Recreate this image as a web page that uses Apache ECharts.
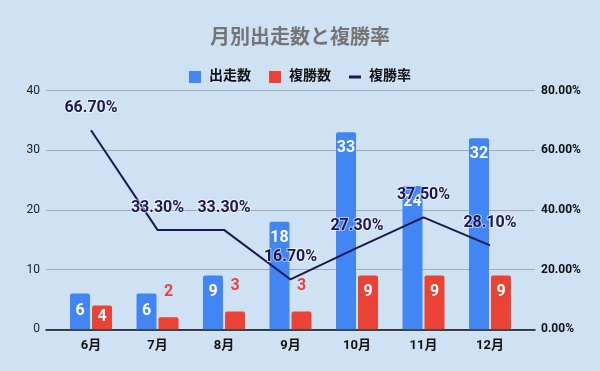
<!DOCTYPE html>
<html><head><meta charset="utf-8">
<script src="https://cdn.jsdelivr.net/npm/echarts@6/dist/echarts.min.js"></script>
<style>html,body{margin:0;padding:0;background:#cfe2f3;}#c{width:600px;height:371px;}</style>
</head><body><div id="c"></div>
<script>
const months = ['6月','7月','8月','9月','10月','11月','12月'];
const starts = [6, 6, 9, 18, 33, 24, 32];
const places = [4, 2, 3, 3, 9, 9, 9];
const placeRate = [66.7, 33.3, 33.3, 16.7, 27.3, 37.5, 28.1];
const leftTicks = {min: 0, max: 40, interval: 10};
const rightTicks = {min: 0, max: 80, interval: 20};

const FONT = 'Roboto, "Noto Sans CJK JP", sans-serif';
const BLUE = '#4285f4', RED = '#ea4335', NAVY = '#1d1850';

function barLabel(v, color) {
  if (v < 4) return {show: true, position: 'top', distance: 17, color: color, fontSize: 16, fontWeight: 'bold', fontFamily: FONT};
  if (v <= 6) return {show: true, position: 'inside', color: '#fff', fontSize: 16, fontWeight: 'bold', fontFamily: FONT};
  return {show: true, position: 'insideTop', distance: 8, color: '#fff', fontSize: 16, fontWeight: 'bold', fontFamily: FONT};
}

const chart = echarts.init(document.getElementById('c'), null, {renderer: 'canvas'});
const G = {top: 90.5, bottom: 41.7};
chart.setOption({
  backgroundColor: '#cfe2f3',
  animation: false,
  title: {
    text: '月別出走数と複勝率', left: 'center', top: 24,
    textStyle: {color: '#757575', fontSize: 20, fontWeight: 'bold', fontFamily: FONT}
  },
  legend: {
    top: 65, left: 'center', itemGap: 18, itemWidth: 12, itemHeight: 12,
    textStyle: {color: '#111', fontSize: 14, fontWeight: 'bold', fontFamily: FONT, padding: [0, 0, 0, 3]},
    data: [
      {name: '出走数', icon: 'rect'},
      {name: '複勝数', icon: 'rect'},
      {name: '複勝率', icon: 'path://M0,0h0.01v0.01h-0.01z M0,4.5h13v3h-13z M12.99,11.99h0.01v0.01h-0.01z', itemStyle: {color: NAVY}}
    ]
  },
  grid: [
    {left: 46, right: 65, top: G.top, bottom: G.bottom},
    {left: 57.75, right: 76.75, top: G.top, bottom: G.bottom}
  ],
  xAxis: [
    {type: 'category', gridIndex: 0, data: [''], axisLabel: {show: false}, axisTick: {show: false},
     axisLine: {lineStyle: {color: '#111', width: 1.5}}},
    {type: 'category', gridIndex: 1, data: months, axisTick: {show: false}, axisLine: {show: false},
     axisLabel: {color: '#111', fontSize: 13, fontWeight: 'bold', fontFamily: FONT, margin: 10}}
  ],
  yAxis: [
    {type: 'value', gridIndex: 0, position: 'left', min: leftTicks.min, max: leftTicks.max, interval: leftTicks.interval,
     axisLine: {show: false}, axisTick: {show: false},
     axisLabel: {color: '#222', fontSize: 12, fontFamily: FONT, margin: 6},
     splitLine: {lineStyle: {color: '#9fabb8', width: 1}}},
    {type: 'value', gridIndex: 0, position: 'right', min: rightTicks.min, max: rightTicks.max, interval: rightTicks.interval,
     axisLine: {show: false}, axisTick: {show: false}, splitLine: {show: false},
     axisLabel: {color: '#111', fontSize: 12, fontWeight: 'bold', fontFamily: FONT, margin: 6,
                 formatter: v => v.toFixed(2) + '%'}},
    {type: 'value', gridIndex: 1, min: leftTicks.min, max: leftTicks.max, show: false},
    {type: 'value', gridIndex: 1, min: rightTicks.min, max: rightTicks.max, show: false}
  ],
  series: [
    {name: '出走数', type: 'bar', xAxisIndex: 1, yAxisIndex: 2, barWidth: 20, barGap: '10%',
     itemStyle: {color: BLUE, borderRadius: [2, 2, 0, 0]},
     data: starts.map(v => ({value: v, label: barLabel(v, BLUE)}))},
    {name: '複勝数', type: 'bar', xAxisIndex: 1, yAxisIndex: 2, barWidth: 20, barGap: '10%',
     itemStyle: {color: RED, borderRadius: [2, 2, 0, 0]},
     data: places.map(v => ({value: v, label: barLabel(v, RED)}))},
    {name: '複勝率', type: 'line', xAxisIndex: 1, yAxisIndex: 3, showSymbol: true, symbol: 'circle', symbolSize: 0.1,
     lineStyle: {color: NAVY, width: 2}, itemStyle: {color: NAVY}, z: 5,
     label: {show: true, position: 'top', distance: 14, color: NAVY, fontSize: 16, fontWeight: 'bold', fontFamily: FONT,
             textBorderColor: 'rgba(255,255,255,0.55)', textBorderWidth: 2,
             formatter: p => p.value.toFixed(2) + '%'},
     data: placeRate}
  ]
});
</script></body></html>
